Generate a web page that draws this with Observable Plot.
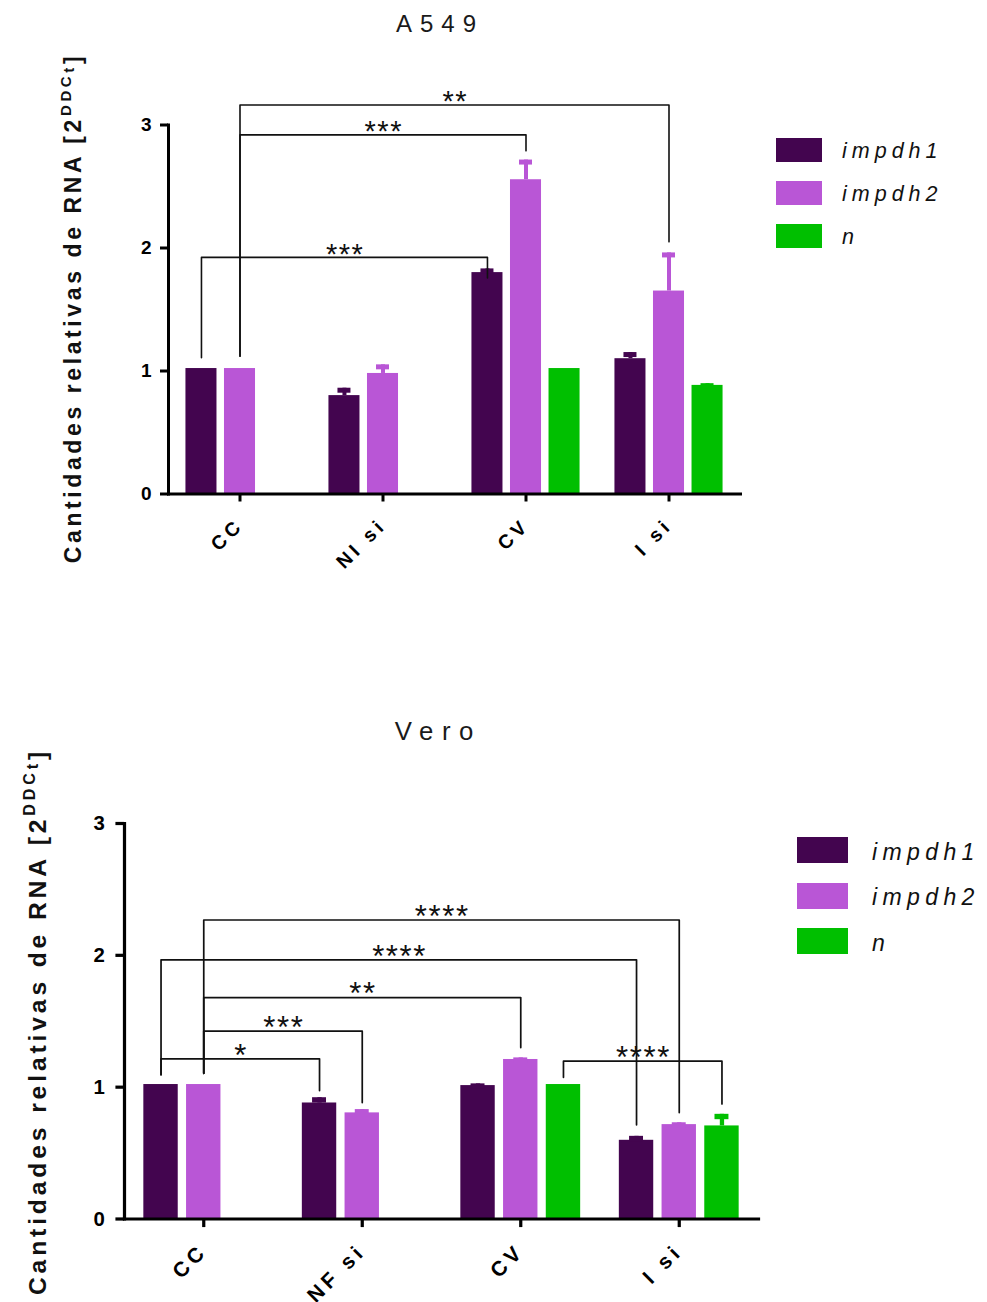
<!DOCTYPE html>
<html>
<head>
<meta charset="utf-8">
<script src="https://cdn.jsdelivr.net/npm/d3@7"></script>
<script src="https://cdn.jsdelivr.net/npm/@observablehq/plot@0.6"></script>
<style>
  body { margin: 0; background: #fff; font-family: "Liberation Sans", Arial, sans-serif; }
  .chart { position: relative; width: 987px; overflow: visible; }
  .chart svg { position: absolute; left: 0; top: 0; overflow: visible; }
  .title { position: absolute; font-size: 24px; color: #1a1a1a; white-space: nowrap; line-height: 1; transform: translateX(-50%); }
</style>
</head>
<body>
<div id="root"></div>
<script>
// ---------- data ----------
const seriesNames = ["impdh1", "impdh2", "n"];
const seriesColors = ["#43054f", "#b956d6", "#00bf00"];
const yTicks = [0, 1, 2, 3];

// A549
const a549Title = "A549";
const a549Categories = ["CC", "NI si", "CV", "I si"];
const a549Impdh1 = [1.02, 0.80, 1.80, 1.10];
const a549Impdh1Err = [0, 0.06, 0.03, 0.05];
const a549Impdh2 = [1.02, 0.98, 2.555, 1.65];
const a549Impdh2Err = [0, 0.07, 0.16, 0.31];
const a549N = [null, null, 1.02, 0.883];
const a549NErr = [null, null, 0, 0.014];
const a549BracketFrom = ["CC", "CC", "CC"];
const a549BracketTo = ["CV", "CV", "I si"];
const a549BracketSeries = ["impdh1", "impdh2", "impdh2"];
const a549BracketHeight = [1.924, 2.92, 3.163];
const a549BracketFromEnd = [1.108, 1.12, 1.12];
const a549BracketToEnd = [1.756, 2.79, 2.05];
const a549BracketLabel = ["***", "***", "**"];

// Vero
const veroTitle = "Vero";
const veroCategories = ["CC", "NF si", "CV", "I si"];
const veroImpdh1 = [1.02, 0.88, 1.012, 0.597];
const veroImpdh1Err = [0, 0.04, 0.013, 0.03];
const veroImpdh2 = [1.02, 0.805, 1.21, 0.716];
const veroImpdh2Err = [0, 0.025, 0.012, 0.014];
const veroN = [null, null, 1.02, 0.706];
const veroNErr = [null, null, 0, 0.088];
const veroBracketFrom = ["CC", "CC", "CC", "CC", "CC", "CV"];
const veroBracketTo = ["NF si", "NF si", "CV", "I si", "I si", "I si"];
const veroBracketSeries = ["impdh1", "impdh2", "impdh2", "impdh1", "impdh2", "n"];
const veroBracketHeight = [1.215, 1.425, 1.68, 1.966, 2.268, 1.197];
const veroBracketFromEnd = [1.095, 1.105, 1.105, 1.095, 1.105, 1.075];
const veroBracketToEnd = [0.974, 0.883, 1.30, 0.714, 0.807, 0.873];
const veroBracketLabel = ["*", "***", "**", "****", "****", "****"];

const yLabelMain = "Cantidades relativas de RNA [2";
const yLabelSup = "DDC";
const yLabelSub = "t";
const yLabelEnd = "]";

// ---------- helpers ----------
function makeRows(cats, values, errs) {
  const rows = [];
  seriesNames.forEach((s, si) => {
    cats.forEach((c, ci) => {
      const v = values[si][ci];
      if (v == null) return;
      rows.push({cat: c, i: ci, series: s, si, value: v, err: errs[si][ci] || 0});
    });
  });
  return rows;
}
function makeBrackets(cats, from, to, series, height, fromEnd, toEnd, label) {
  return from.map((f, j) => ({
    id: j, i1: cats.indexOf(f), i2: cats.indexOf(to[j]), si: seriesNames.indexOf(series[j]),
    h: height[j], e1: fromEnd[j], e2: toEnd[j], label: label[j]
  }));
}

function drawChart(root, cfg) {
  const {cats, rows, brackets, L, title} = cfg;
  const k = L.k;
  const div = document.createElement("div");
  div.className = "chart";
  div.style.height = L.height + "px";
  root.appendChild(div);

  const plotW = L.width - L.marginLeft - L.marginRight;
  const band = plotW / cats.length;
  const step = band * 0.2695, bw = band * 0.217;
  const capW = 13 * k, capH = 5 * k;
  const off = si => (si - 1) * step;
  const starLs = 1.5 * k;

  const marks = [];
  seriesNames.forEach((s, si) => {
    const sr = rows.filter(d => d.si === si);
    marks.push(Plot.rect(sr, {
      x1: d => d.i - 0.5, x2: d => d.i + 0.5, y1: 0, y2: "value",
      fill: seriesColors[si],
      insetLeft: band / 2 + off(si) - bw / 2, insetRight: band / 2 - off(si) - bw / 2
    }));
  });
  seriesNames.forEach((s, si) => {
    const er = rows.filter(d => d.si === si && d.err > 0);
    marks.push(Plot.ruleX(er, {
      x: "i", y1: "value", y2: d => d.value + d.err, dx: off(si),
      stroke: seriesColors[si], strokeWidth: 4 * k
    }));
    marks.push(Plot.rect(er, {
      x1: d => d.i - 0.5, x2: d => d.i + 0.5,
      y1: d => d.value + d.err, y2: d => d.value + d.err,
      insetLeft: band / 2 + off(si) - capW / 2, insetRight: band / 2 - off(si) - capW / 2,
      insetTop: 0, insetBottom: -capH,
      fill: seriesColors[si]
    }));
  });
  seriesNames.forEach((s, si) => {
    const br = brackets.filter(b => b.si === si);
    if (!br.length) return;
    const pts = br.flatMap(b => [
      {id: b.id, x: b.i1, y: b.e1}, {id: b.id, x: b.i1, y: b.h},
      {id: b.id, x: b.i2, y: b.h}, {id: b.id, x: b.i2, y: b.e2}
    ]);
    marks.push(Plot.line(pts, {x: "x", y: "y", z: "id", dx: off(si), stroke: "#111", strokeWidth: 1.6 * k}));
    marks.push(Plot.text(br, {
      x: b => (b.i1 + b.i2) / 2, y: "h", text: "label", dx: off(si) + starLs / 2, dy: -3 * k,
      lineAnchor: "middle", fontSize: 29 * k, fill: "#111"
    }));
  });
  marks.push(Plot.frame({anchor: "left", strokeWidth: 3 * k, stroke: "#000"}));
  marks.push(Plot.frame({anchor: "bottom", strokeWidth: 3 * k, stroke: "#000"}));
  marks.push(Plot.axisY({ticks: yTicks, tickSize: 8 * k, tickPadding: L.yPad, fontSize: 19 * k, fontWeight: "bold", strokeWidth: 3 * k, label: null, tickFormat: d3.format("d")}));
  marks.push(Plot.axisX({ticks: cats.map((c, i) => i), tickFormat: i => cats[i], tickRotate: -45, tickSize: 8 * k, tickPadding: L.xPad, fontSize: 19.5 * k, fontWeight: "bold", strokeWidth: 3 * k, label: null}));

  const svg = Plot.plot({
    width: L.width, height: L.height,
    marginLeft: L.marginLeft, marginRight: L.marginRight,
    marginTop: L.marginTop, marginBottom: L.marginBottom,
    x: {domain: [-0.5, cats.length - 0.5]},
    y: {domain: [0, 3]},
    style: {fontFamily: "'Liberation Sans', Arial, sans-serif", color: "#000", background: "transparent", overflow: "visible"},
    marks
  });
  div.appendChild(svg);
  const s = d3.select(svg);
  s.selectAll('g[aria-label="x-axis tick label"] text').attr("letter-spacing", 4 * k).attr("font-weight", "bold");
  s.selectAll('g[aria-label="y-axis tick label"] text').attr("font-weight", "bold");
  s.selectAll('g[aria-label="text"] text').attr("letter-spacing", starLs);

  // y-axis label
  const fs = 23 * k;
  const t = s.append("text")
    .attr("transform", `translate(${L.yLabelX},${L.yLabelY}) rotate(-90)`)
    .attr("text-anchor", "middle")
    .attr("font-weight", "bold")
    .attr("font-size", fs)
    .attr("letter-spacing", 3.6 * k)
    .attr("fill", "#111");
  t.append("tspan").text(yLabelMain);
  t.append("tspan").attr("font-size", 15 * k).attr("dy", -0.45 * fs).text(yLabelSup);
  t.append("tspan").attr("font-size", 15 * k).attr("dy", 0.13 * fs).text(yLabelSub);
  t.append("tspan").attr("dy", 0.32 * fs).text(yLabelEnd);

  // title
  const h = document.createElement("div");
  h.className = "title";
  h.textContent = title;
  h.style.left = L.titleX + "px";
  h.style.top = L.titleTop + "px";
  h.style.fontSize = (24 * k) + "px";
  h.style.letterSpacing = (8 * k) + "px";
  h.style.paddingLeft = (8 * k) + "px";
  div.appendChild(h);

  // legend
  seriesNames.forEach((name, si) => {
    const row = document.createElement("div");
    row.style.cssText = `position:absolute;left:${L.legendX}px;top:${L.legendY0 + si * L.legendGap - L.swH / 2}px;height:${L.swH}px;display:flex;align-items:center;`;
    const sw = document.createElement("div");
    sw.style.cssText = `width:${L.swW}px;height:${L.swH}px;background:${seriesColors[si]};`;
    const lab = document.createElement("span");
    lab.textContent = name;
    lab.style.cssText = `margin-left:${L.labGap}px;margin-top:${4 * k}px;font-style:italic;font-size:${21.5 * k}px;letter-spacing:${5 * k}px;color:#111;line-height:1;white-space:nowrap;`;
    row.appendChild(sw);
    row.appendChild(lab);
    div.appendChild(row);
  });
}

const root = document.getElementById("root");

drawChart(root, {
  title: a549Title,
  cats: a549Categories,
  rows: makeRows(a549Categories, [a549Impdh1, a549Impdh2, a549N], [a549Impdh1Err, a549Impdh2Err, a549NErr]),
  brackets: makeBrackets(a549Categories, a549BracketFrom, a549BracketTo, a549BracketSeries, a549BracketHeight, a549BracketFromEnd, a549BracketToEnd, a549BracketLabel),
  L: {k: 1, width: 987, height: 620, marginLeft: 168, marginRight: 247, marginTop: 124.5, marginBottom: 126.5,
      yPad: 9, xPad: 20, yLabelX: 81, yLabelY: 308,
      titleX: 436, titleTop: 12,
      legendX: 776, legendY0: 150, legendGap: 43, swW: 46, swH: 24, labGap: 20}
});

drawChart(root, {
  title: veroTitle,
  cats: veroCategories,
  rows: makeRows(veroCategories, [veroImpdh1, veroImpdh2, veroN], [veroImpdh1Err, veroImpdh2Err, veroNErr]),
  brackets: makeBrackets(veroCategories, veroBracketFrom, veroBracketTo, veroBracketSeries, veroBracketHeight, veroBracketFromEnd, veroBracketToEnd, veroBracketLabel),
  L: {k: 1.073, width: 987, height: 682, marginLeft: 124, marginRight: 229, marginTop: 203, marginBottom: 83.5,
      yPad: 11, xPad: 20, yLabelX: 46, yLabelY: 401.5,
      titleX: 434, titleTop: 99,
      legendX: 797, legendY0: 230, legendGap: 45.5, swW: 51, swH: 26, labGap: 24}
});
</script>
</body>
</html>
